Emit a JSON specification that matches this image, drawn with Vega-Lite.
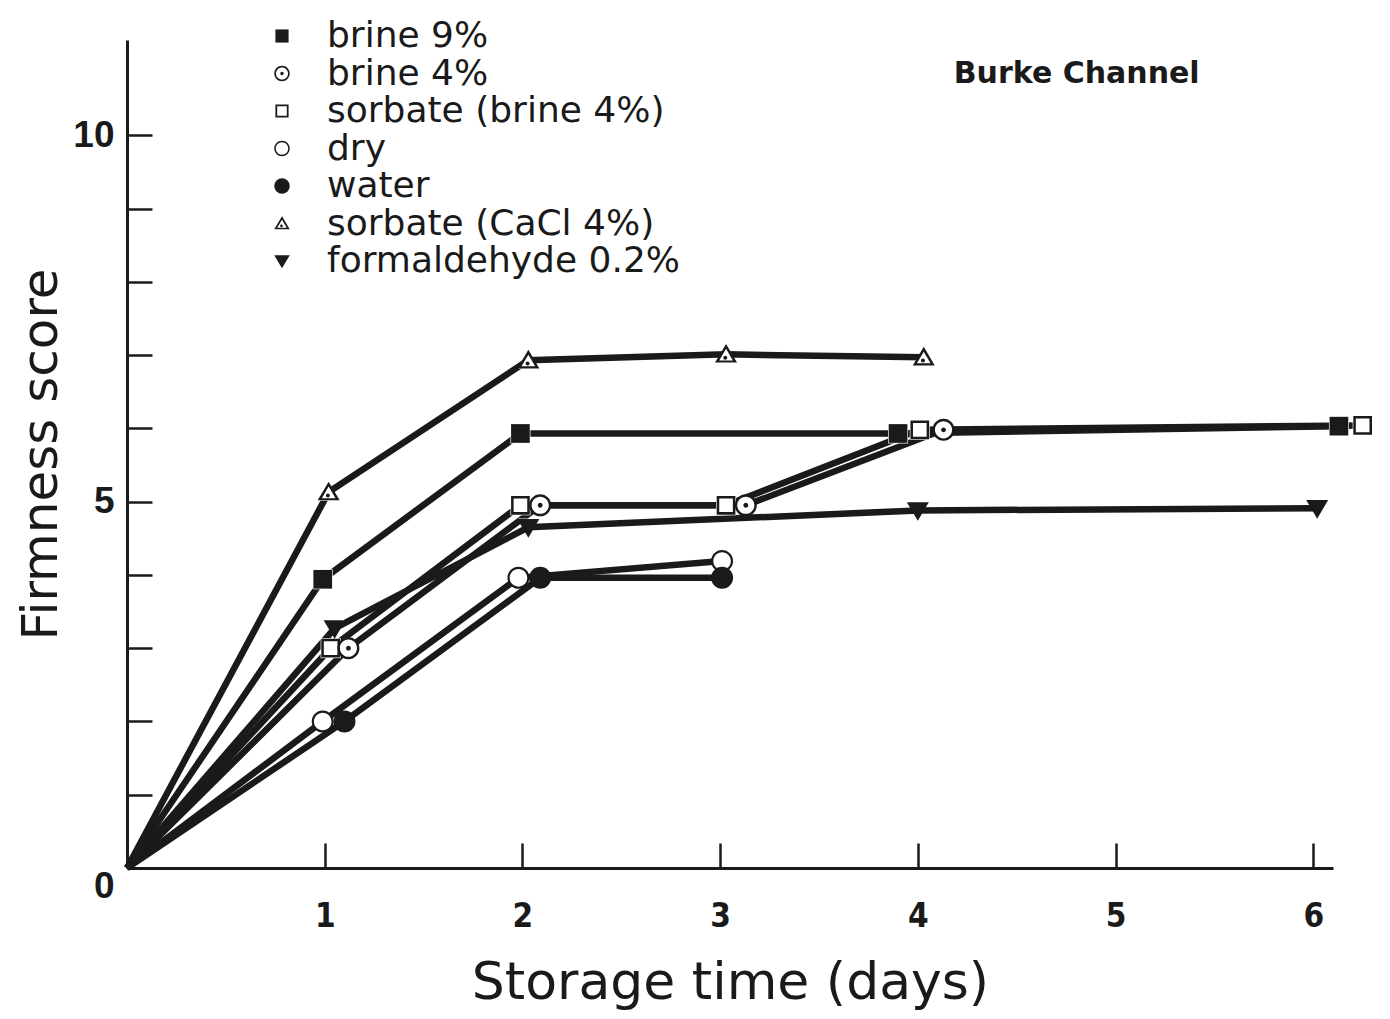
{
  "$schema": "https://vega.github.io/schema/vega-lite/v6.json",
  "width": 1206,
  "height": 828,
  "autosize": {"type": "none"},
  "padding": {"left": 127, "top": 40, "right": 57, "bottom": 151},
  "background": "white",
  "config": {"view": {"stroke": null}},
  "title": {
    "text": "Burke Channel",
    "anchor": "end",
    "orient": "top",
    "offset": -45,
    "dx": -176,
    "dy": 26,
    "font": "DejaVu Sans",
    "fontSize": 30,
    "fontWeight": "bold",
    "color": "#1a1a1a"
  },
  "data": {
    "values": [
      {"series": "brine 9%", "day": 0, "score": 0},
      {"series": "brine 9%", "day": 0.99, "score": 3.94},
      {"series": "brine 9%", "day": 1.99, "score": 5.93},
      {"series": "brine 9%", "day": 3.9, "score": 5.93},
      {"series": "brine 9%", "day": 6.13, "score": 6.03},
      {"series": "brine 4%", "day": 0, "score": 0},
      {"series": "brine 4%", "day": 1.12, "score": 3.0},
      {"series": "brine 4%", "day": 2.09, "score": 4.95},
      {"series": "brine 4%", "day": 3.13, "score": 4.95},
      {"series": "brine 4%", "day": 4.13, "score": 5.98},
      {"series": "sorbate (brine 4%)", "day": 0, "score": 0},
      {"series": "sorbate (brine 4%)", "day": 1.03, "score": 3.0},
      {"series": "sorbate (brine 4%)", "day": 1.99, "score": 4.95},
      {"series": "sorbate (brine 4%)", "day": 3.03, "score": 4.95},
      {"series": "sorbate (brine 4%)", "day": 4.01, "score": 5.98},
      {"series": "sorbate (brine 4%)", "day": 6.25, "score": 6.04},
      {"series": "dry", "day": 0, "score": 0},
      {"series": "dry", "day": 0.99, "score": 2.0},
      {"series": "dry", "day": 1.98, "score": 3.96},
      {"series": "dry", "day": 3.01, "score": 4.19},
      {"series": "water", "day": 0, "score": 0},
      {"series": "water", "day": 1.1, "score": 2.0},
      {"series": "water", "day": 2.09, "score": 3.96},
      {"series": "water", "day": 3.01, "score": 3.96},
      {"series": "sorbate (CaCl 4%)", "day": 0, "score": 0},
      {"series": "sorbate (CaCl 4%)", "day": 1.02, "score": 5.13},
      {"series": "sorbate (CaCl 4%)", "day": 2.03, "score": 6.93},
      {"series": "sorbate (CaCl 4%)", "day": 3.03, "score": 7.01},
      {"series": "sorbate (CaCl 4%)", "day": 4.03, "score": 6.97},
      {"series": "formaldehyde 0.2%", "day": 0, "score": 0},
      {"series": "formaldehyde 0.2%", "day": 1.05, "score": 3.27},
      {"series": "formaldehyde 0.2%", "day": 2.03, "score": 4.65},
      {"series": "formaldehyde 0.2%", "day": 4.0, "score": 4.88},
      {"series": "formaldehyde 0.2%", "day": 6.02, "score": 4.91}
    ]
  },
  "encoding": {
    "x": {
      "field": "day",
      "type": "quantitative",
      "scale": {"domain": [0, 6.1], "nice": false, "zero": false},
      "axis": {
        "title": "Storage time  (days)",
        "values": [1, 2, 3, 4, 5, 6],
        "format": "d",
        "grid": false,
        "domainColor": "#1a1a1a",
        "domainWidth": 3,
        "tickColor": "#1a1a1a",
        "tickWidth": 2.5,
        "tickSize": -25,
        "labelPadding": 57,
        "labelFont": "Liberation Sans Narrow, DejaVu Sans Condensed, sans-serif",
        "labelFontSize": 33,
        "labelFontWeight": "bold",
        "labelColor": "#1a1a1a",
        "titleFont": "DejaVu Sans",
        "titleFontSize": 52,
        "titleFontWeight": "normal",
        "titleColor": "#1a1a1a",
        "titlePadding": 24
      }
    },
    "y": {
      "field": "score",
      "type": "quantitative",
      "scale": {"domain": [0, 11.3], "nice": false, "zero": true},
      "axis": {
        "title": "Firmness score",
        "values": [0, 1, 2, 3, 4, 5, 6, 7, 8, 9, 10],
        "labelExpr": "datum.value % 5 === 0 ? datum.label : ''",
        "labelOffset": {"condition": {"test": "datum.value === 0", "value": 18}, "value": 0},
        "grid": false,
        "domainColor": "#1a1a1a",
        "domainWidth": 3,
        "tickColor": "#1a1a1a",
        "tickWidth": 2.5,
        "tickSize": -25,
        "labelPadding": 38,
        "labelFont": "Liberation Sans, DejaVu Sans, sans-serif",
        "labelFontSize": 37,
        "labelFontWeight": "bold",
        "labelColor": "#1a1a1a",
        "titleFont": "DejaVu Sans",
        "titleFontSize": 50,
        "titleFontWeight": "normal",
        "titleColor": "#1a1a1a",
        "titlePadding": 6
      }
    }
  },
  "layer": [
    {
      "mark": {"type": "line", "color": "#1a1a1a", "strokeWidth": 6.5, "strokeCap": "butt"},
      "encoding": {"detail": {"field": "series"}}
    },
    {
      "transform": [{"filter": "datum.day > 0"}],
      "mark": {"type": "point", "filled": true, "fill": "white", "stroke": null, "size": 400, "opacity": 1},
      "encoding": {
        "shape": {
          "field": "series",
          "type": "nominal",
          "scale": {
            "domain": ["brine 9%", "brine 4%", "sorbate (brine 4%)", "dry", "water", "sorbate (CaCl 4%)", "formaldehyde 0.2%"],
            "range": ["square", "circle", "square", "circle", "circle", "triangle-up", "triangle-down"]
          },
          "legend": null
        }
      }
    },
    {
      "transform": [{"filter": "datum.day > 0"}],
      "mark": {"type": "point", "filled": true, "fill": "#1a1a1a", "stroke": null, "size": 484, "opacity": 1},
      "encoding": {
        "shape": {
          "field": "series",
          "type": "nominal",
          "scale": {
            "domain": ["brine 9%", "brine 4%", "sorbate (brine 4%)", "dry", "water", "sorbate (CaCl 4%)", "formaldehyde 0.2%"],
            "range": [
              "M-0.85,-0.85H0.85V0.85H-0.85Z",
              "M-1,0A1,1 0 1,0 1,0A1,1 0 1,0 -1,0ZM-0.78,0A0.78,0.78 0 1,1 0.78,0A0.78,0.78 0 1,1 -0.78,0ZM-0.22,0A0.22,0.22 0 1,0 0.22,0A0.22,0.22 0 1,0 -0.22,0Z",
              "M-0.85,-0.85H0.85V0.85H-0.85ZM-0.62,-0.62V0.62H0.62V-0.62Z",
              "M-1,0A1,1 0 1,0 1,0A1,1 0 1,0 -1,0ZM-0.8,0A0.8,0.8 0 1,1 0.8,0A0.8,0.8 0 1,1 -0.8,0Z",
              "circle",
              "M0,-0.95L1,0.75L-1,0.75ZM0,-0.5L-0.62,0.55L0.62,0.55ZM-0.25,0.3A0.18,0.18 0 1,0 0.11,0.3A0.18,0.18 0 1,0 -0.25,0.3Z",
              "M-1,-0.75L1,-0.75L0,0.95Z"
            ]
          },
          "legend": {
            "title": null,
            "orient": "none",
            "legendX": 137,
            "legendY": -22,
            "padding": 0,
            "symbolSize": 240,
            "symbolFillColor": "#1a1a1a",
            "symbolStrokeWidth": 0,
            "labelFont": "DejaVu Sans",
            "labelFontSize": 36,
            "labelColor": "#1a1a1a",
            "labelOffset": 27,
            "rowPadding": 1.5,
            "labelLimit": 700
          }
        }
      }
    }
  ],
  "resolve": {"scale": {"shape": "independent"}}
}
